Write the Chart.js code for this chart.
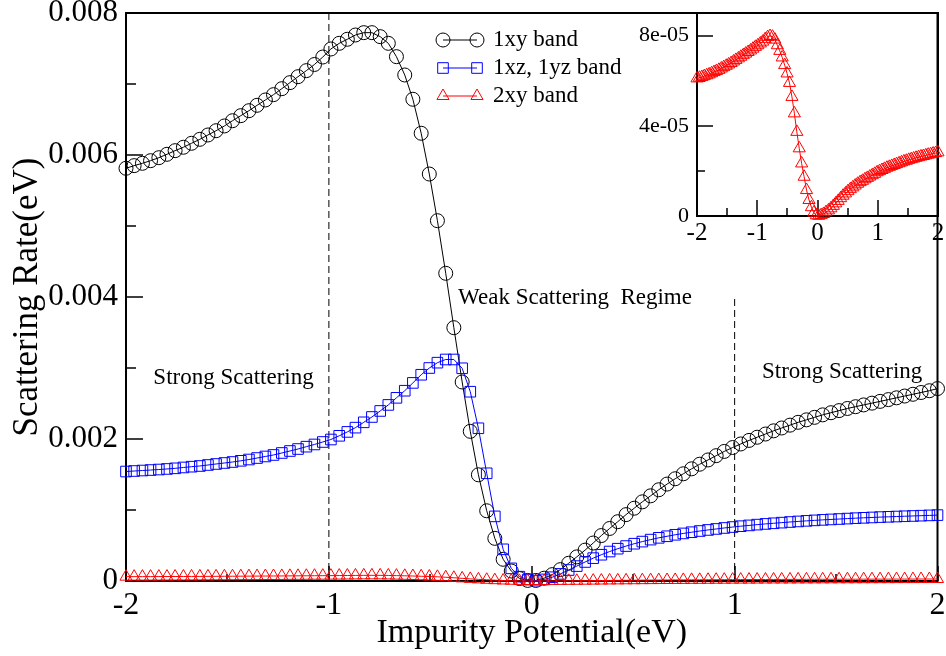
<!DOCTYPE html>
<html>
<head>
<meta charset="utf-8">
<script src="https://cdn.jsdelivr.net/npm/chart.js@4.4.0/dist/chart.umd.min.js"></script>
<style>
  body { margin: 0; background: #fff; }
  #wrap { position: relative; width: 946px; height: 656px; }
  #mainChart { position: absolute; left: 0; top: 0; }
  #insetChart { position: absolute; left: 620px; top: 0; }
</style>
</head>
<body>
<div id="wrap">
  <canvas id="mainChart" width="946" height="656"></canvas>
  <canvas id="insetChart" width="326" height="250"></canvas>
</div>
<script>
// impurity potential (eV), 100 points from -2 to 2
const potential = [
  -2.000, -1.960, -1.919, -1.879, -1.838, -1.798, -1.758, -1.717, -1.677, -1.636,
  -1.596, -1.556, -1.515, -1.475, -1.434, -1.394, -1.354, -1.313, -1.273, -1.232,
  -1.192, -1.152, -1.111, -1.071, -1.030, -0.990, -0.949, -0.909, -0.869, -0.828,
  -0.788, -0.747, -0.707, -0.667, -0.626, -0.586, -0.545, -0.505, -0.465, -0.424,
  -0.384, -0.343, -0.303, -0.263, -0.222, -0.182, -0.141, -0.101, -0.061, -0.020,
  0.020, 0.061, 0.101, 0.141, 0.182, 0.222, 0.263, 0.303, 0.343, 0.384,
  0.424, 0.465, 0.505, 0.545, 0.586, 0.626, 0.667, 0.707, 0.747, 0.788,
  0.828, 0.869, 0.909, 0.949, 0.990, 1.030, 1.071, 1.111, 1.152, 1.192,
  1.232, 1.273, 1.313, 1.354, 1.394, 1.434, 1.475, 1.515, 1.556, 1.596,
  1.636, 1.677, 1.717, 1.758, 1.798, 1.838, 1.879, 1.919, 1.960, 2.000
];

// scattering rate (eV), 1xy band
const rate1xy = [
  0.005813, 0.005850, 0.005883, 0.005920, 0.005962, 0.006010, 0.006061, 0.006109, 0.006165, 0.006221,
  0.006282, 0.006342, 0.006409, 0.006483, 0.006554, 0.006624, 0.006700, 0.006775, 0.006850, 0.006934,
  0.007019, 0.007103, 0.007188, 0.007275, 0.007380, 0.007493, 0.007573, 0.007630, 0.007690, 0.007723,
  0.007723, 0.007667, 0.007573, 0.007385, 0.007127, 0.006785, 0.006306, 0.005732, 0.005075, 0.004334,
  0.003568, 0.002803, 0.002108, 0.001496, 0.000989, 0.000601, 0.000306, 0.000141, 0.000035, 0.000008,
  0.000008, 0.000040, 0.000090, 0.000160, 0.000250, 0.000340, 0.000435, 0.000535, 0.000640, 0.000740,
  0.000835, 0.000935, 0.001025, 0.001115, 0.001200, 0.001285, 0.001365, 0.001440, 0.001510, 0.001580,
  0.001645, 0.001705, 0.001765, 0.001825, 0.001880, 0.001930, 0.001980, 0.002025, 0.002070, 0.002115,
  0.002155, 0.002195, 0.002235, 0.002270, 0.002305, 0.002340, 0.002370, 0.002400, 0.002430, 0.002455,
  0.002480, 0.002505, 0.002530, 0.002555, 0.002580, 0.002605, 0.002630, 0.002655, 0.002680, 0.002710
];

// 1xz, 1yz band
const rate1xz = [
  0.001542, 0.001549, 0.001556, 0.001563, 0.001570, 0.001578, 0.001587, 0.001599, 0.001610, 0.001620,
  0.001634, 0.001648, 0.001662, 0.001676, 0.001693, 0.001711, 0.001732, 0.001754, 0.001775, 0.001803,
  0.001831, 0.001859, 0.001892, 0.001923, 0.001958, 0.001993, 0.002045, 0.002100, 0.002160, 0.002235,
  0.002310, 0.002395, 0.002480, 0.002580, 0.002680, 0.002790, 0.002905, 0.003000, 0.003075, 0.003120,
  0.003120, 0.002996, 0.002666, 0.002151, 0.001517, 0.000910, 0.000446, 0.000178, 0.000061, 0.000020,
  0.000005, 0.000022, 0.000053, 0.000100, 0.000155, 0.000210, 0.000268, 0.000322, 0.000370, 0.000415,
  0.000455, 0.000492, 0.000525, 0.000555, 0.000583, 0.000608, 0.000630, 0.000651, 0.000670, 0.000687,
  0.000704, 0.000719, 0.000733, 0.000747, 0.000760, 0.000772, 0.000783, 0.000794, 0.000804, 0.000813,
  0.000822, 0.000831, 0.000839, 0.000847, 0.000854, 0.000861, 0.000867, 0.000873, 0.000879, 0.000885,
  0.000890, 0.000895, 0.000900, 0.000904, 0.000908, 0.000912, 0.000916, 0.000920, 0.000924, 0.000928
];

// 2xy band (also shown magnified in the inset)
const rate2xy = [
  6.10e-5, 6.13e-5, 6.16e-5, 6.20e-5, 6.24e-5, 6.28e-5, 6.33e-5, 6.38e-5, 6.43e-5, 6.48e-5,
  6.54e-5, 6.60e-5, 6.66e-5, 6.72e-5, 6.78e-5, 6.85e-5, 6.92e-5, 6.99e-5, 7.06e-5, 7.13e-5,
  7.20e-5, 7.27e-5, 7.34e-5, 7.42e-5, 7.50e-5, 7.57e-5, 7.65e-5, 7.73e-5, 7.84e-5, 7.93e-5,
  7.98e-5, 7.95e-5, 7.82e-5, 7.57e-5, 7.32e-5, 7.03e-5, 6.69e-5, 6.32e-5, 5.90e-5, 5.28e-5,
  4.55e-5, 3.73e-5, 3.00e-5, 2.33e-5, 1.74e-5, 1.15e-5, 0.71e-5, 0.39e-5, 0.15e-5, 0.03e-5,
  0.01e-5, 0.04e-5, 0.09e-5, 0.17e-5, 0.25e-5, 0.34e-5, 0.45e-5, 0.56e-5, 0.67e-5, 0.79e-5,
  0.90e-5, 1.00e-5, 1.10e-5, 1.19e-5, 1.27e-5, 1.35e-5, 1.43e-5, 1.50e-5, 1.56e-5, 1.63e-5,
  1.69e-5, 1.75e-5, 1.81e-5, 1.87e-5, 1.94e-5, 1.99e-5, 2.04e-5, 2.09e-5, 2.14e-5, 2.18e-5,
  2.22e-5, 2.26e-5, 2.30e-5, 2.34e-5, 2.38e-5, 2.42e-5, 2.45e-5, 2.49e-5, 2.52e-5, 2.55e-5,
  2.58e-5, 2.61e-5, 2.64e-5, 2.66e-5, 2.69e-5, 2.72e-5, 2.74e-5, 2.77e-5, 2.79e-5, 2.82e-5
];

const bandNames = ['1xy band', '1xz, 1yz band', '2xy band'];

// regime boundaries (dashed lines) and how high each goes
const regimeBounds = [-1, 1];
const regimeTops = [0.008, 0.004];

// tick values and labels
const xTicks = [-2, -1, 0, 1, 2];
const xTickLabels = ['-2', '-1', '0', '1', '2'];
const xMinor = [-1.5, -0.5, 0.5, 1.5];
const yTicks = [0, 0.002, 0.004, 0.006, 0.008];
const yTickLabels = ['0', '0.002', '0.004', '0.006', '0.008'];
const yMinor = [0.001, 0.003, 0.005, 0.007];
const insetYTicks = [0, 4e-5, 8e-5];
const insetYTickLabels = ['0', '4e-05', '8e-05'];
const insetYMinor = [2e-5, 6e-5];

const SERIF = '"Liberation Serif", "Times New Roman", serif';

const pts = arr => potential.map((x, i) => ({ x: x, y: arr[i] }));

// box around the plot, inward ticks and tick labels, like xmgrace
const frameTicks = {
    id: 'frameTicks',
    beforeDatasetsDraw(chart, args, o) {
        const { ctx, chartArea: a } = chart;
        const xs = chart.scales.x, ys = chart.scales.y;
        ctx.save();
        ctx.strokeStyle = '#000';
        ctx.lineWidth = o.tickWidth;
        const tx = (vals, len) => vals.forEach(v => {
            const p = Math.round(xs.getPixelForValue(v));
            ctx.beginPath(); ctx.moveTo(p, a.bottom); ctx.lineTo(p, a.bottom - len); ctx.stroke();
        });
        const ty = (vals, len) => vals.forEach(v => {
            const p = Math.round(ys.getPixelForValue(v));
            ctx.beginPath(); ctx.moveTo(a.left, p); ctx.lineTo(a.left + len, p); ctx.stroke();
        });
        tx(o.xMajor, o.xMajorLen); tx(o.xMinor, o.xMinorLen);
        ty(o.yMajor, o.yMajorLen); ty(o.yMinor, o.yMinorLen);
        ctx.lineWidth = o.frameWidth;
        ctx.strokeRect(a.left, a.top, a.right - a.left, a.bottom - a.top);

        ctx.fillStyle = '#000';
        ctx.textBaseline = 'middle';
        ctx.textAlign = 'center';
        ctx.font = o.xFont + 'px ' + SERIF;
        o.xMajor.forEach((v, i) => ctx.fillText(o.xLabels[i], xs.getPixelForValue(v), a.bottom + o.xLabelGap));
        ctx.textAlign = 'right';
        ctx.font = o.yFont + 'px ' + SERIF;
        o.yMajor.forEach((v, i) => ctx.fillText(o.yLabels[i], a.left - o.yLabelGap, ys.getPixelForValue(v)));
        ctx.restore();
    }
};

// free text labels placed in data coordinates
const regimeNotes = {
    id: 'regimeNotes',
    afterDatasetsDraw(chart, args, o) {
        const { ctx } = chart;
        const xs = chart.scales.x, ys = chart.scales.y;
        ctx.save();
        ctx.fillStyle = '#000';
        ctx.font = '23px ' + SERIF;
        ctx.textBaseline = 'middle';
        o.items.forEach(t => {
            ctx.textAlign = t.align;
            ctx.fillText(t.text, xs.getPixelForValue(t.x), ys.getPixelForValue(t.y));
        });
        ctx.restore();
    }
};

// legend with a line and two markers per row
const lineLegend = {
    id: 'lineLegend',
    afterDraw(chart, args, o) {
        const { ctx } = chart;
        ctx.save();
        ctx.font = '23px ' + SERIF;
        ctx.textBaseline = 'middle';
        ctx.textAlign = 'left';
        o.rows.forEach((r, i) => {
            const ds = chart.data.datasets[r];
            const y = o.top + i * o.gap;
            ctx.strokeStyle = ds.borderColor;
            ctx.lineWidth = 1;
            ctx.beginPath(); ctx.moveTo(o.x0, y); ctx.lineTo(o.x1, y); ctx.stroke();
            ctx.fillStyle = 'rgba(0,0,0,0)';
            [o.x0, o.x1].forEach(px => Chart.helpers.drawPoint(ctx, {
                pointStyle: ds.pointStyle, radius: ds.pointRadius, rotation: 0, borderWidth: 1
            }, px, y));
            ctx.fillStyle = '#000';
            ctx.fillText(ds.label, o.textX, y);
        });
        ctx.restore();
    }
};

function bandSet(label, data, color, style, radius, order) {
    return {
        label: label,
        data: pts(data),
        borderColor: color,
        borderWidth: 1,
        pointStyle: style,
        pointRadius: radius,
        pointBorderColor: color,
        pointBackgroundColor: 'rgba(0,0,0,0)',
        pointBorderWidth: 1,
        tension: 0,
        clip: false,
        order: order
    };
}

const dividers = regimeBounds.map((b, i) => ({
    label: 'divider',
    data: [{ x: b, y: 0 }, { x: b, y: regimeTops[i] }],
    borderColor: '#000',
    borderWidth: 1,
    borderDash: [7, 4],
    pointRadius: 0,
    order: 5
}));

const hiddenTicks = { display: false };

new Chart(document.getElementById('mainChart'), {
    type: 'line',
    data: {
        datasets: [
            bandSet(bandNames[0], rate1xy, '#000000', 'circle', 7, 2),
            bandSet(bandNames[1], rate1xz, '#0000ff', 'rect', 7.5, 1),
            bandSet(bandNames[2], rate2xy, '#ff0000', 'triangle', 7, 0),
            ...dividers
        ]
    },
    options: {
        responsive: false,
        animation: false,
        events: [],
        layout: { padding: { top: 13, right: 4, left: 0, bottom: 0 } },
        plugins: {
            legend: { display: false },
            tooltip: { enabled: false },
            frameTicks: {
                frameWidth: 2, tickWidth: 1.5,
                xMajor: xTicks, xMinor: xMinor, xMajorLen: 15, xMinorLen: 7,
                yMajor: yTicks, yMinor: yMinor, yMajorLen: 17, yMinorLen: 10,
                xLabels: xTickLabels, yLabels: yTickLabels,
                xFont: 32, yFont: 31, xLabelGap: 25, yLabelGap: 8
            },
            regimeNotes: {
                items: [
                    { text: 'Strong Scattering', x: -1.47, y: 0.00286, align: 'center' },
                    { text: 'Weak Scattering  Regime', x: -0.363, y: 0.00399, align: 'left' },
                    { text: 'Strong Scattering', x: 1.53, y: 0.00294, align: 'center' }
                ]
            },
            lineLegend: { rows: [0, 1, 2], x0: 443, x1: 477, textX: 493, top: 40, gap: 28 }
        },
        scales: {
            x: {
                type: 'linear',
                min: -2,
                max: 2,
                afterFit: s => { s.height = 75; },
                grid: { display: false, drawTicks: false },
                border: { display: false },
                ticks: hiddenTicks,
                title: {
                    display: true,
                    text: 'Impurity Potential(eV)',
                    color: '#000',
                    font: { family: SERIF, size: 34 },
                    padding: { top: 0, bottom: 3 }
                }
            },
            y: {
                min: 0,
                max: 0.008,
                afterFit: s => { s.width = 126; },
                grid: { display: false, drawTicks: false },
                border: { display: false },
                ticks: hiddenTicks,
                title: {
                    display: true,
                    text: 'Scattering Rate(eV)',
                    color: '#000',
                    font: { family: SERIF, size: 35 },
                    padding: { top: 7, bottom: 0 }
                }
            }
        }
    },
    plugins: [frameTicks, regimeNotes, lineLegend]
});

// inset: 2xy band on its own scale
new Chart(document.getElementById('insetChart'), {
    type: 'line',
    data: {
        datasets: [bandSet(bandNames[2], rate2xy, '#ff0000', 'triangle', 7, 0)]
    },
    options: {
        responsive: false,
        animation: false,
        events: [],
        layout: { padding: { top: 13, right: 4, left: 0, bottom: 0 } },
        plugins: {
            legend: { display: false },
            tooltip: { enabled: false },
            frameTicks: {
                frameWidth: 2, tickWidth: 1.5,
                xMajor: xTicks, xMinor: xMinor, xMajorLen: 16, xMinorLen: 8,
                yMajor: insetYTicks, yMinor: insetYMinor, yMajorLen: 16, yMinorLen: 8,
                xLabels: xTickLabels, yLabels: insetYTickLabels,
                xFont: 25, yFont: 22, xLabelGap: 17, yLabelGap: 8
            }
        },
        scales: {
            x: {
                type: 'linear',
                min: -2,
                max: 2,
                afterFit: s => { s.height = 34; },
                grid: { display: false, drawTicks: false },
                border: { display: false },
                ticks: hiddenTicks
            },
            y: {
                min: 0,
                max: 9e-5,
                afterFit: s => { s.width = 77; },
                grid: { display: false, drawTicks: false },
                border: { display: false },
                ticks: hiddenTicks
            }
        }
    },
    plugins: [frameTicks]
});
</script>
</body>
</html>
